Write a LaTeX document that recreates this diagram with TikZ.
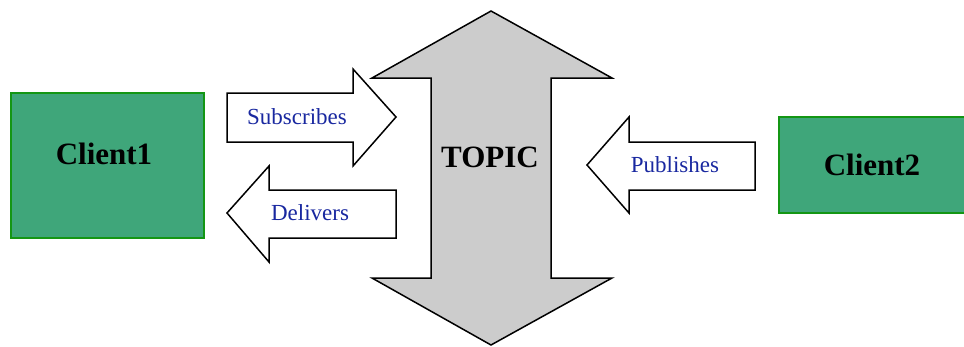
\documentclass[tikz,border=0pt]{standalone}
\usepackage{fontspec}
\setmainfont{Liberation Serif}
\definecolor{clientfill}{RGB}{63,166,122}
\definecolor{clientedge}{RGB}{20,150,20}
\definecolor{labelblue}{RGB}{25,40,160}
\definecolor{topicgray}{RGB}{204,204,204}
\tikzset{
  client/.style={draw=clientedge, fill=clientfill, line width=1.3pt, inner sep=0pt},
  clienttext/.style={font=\fontsize{31}{31}\selectfont\bfseries, text=black, inner sep=0pt},
  blockarrow/.style={draw=black, fill=white, line width=1.5pt, line join=miter},
  arrowtext/.style={font=\fontsize{23}{23}\selectfont, text=labelblue, inner sep=0pt},
  topicarrow/.style={draw=black, fill=topicgray, line width=1.5pt, line join=miter}
}
\begin{document}
\begin{tikzpicture}[x=1pt,y=-1pt]
\useasboundingbox (0,0) rectangle (964,346);
\clip (0,0) rectangle (964,346);

% clients
\node[client, minimum width=193pt, minimum height=145pt] (c1) at (107.5,165.5) {};
\node[clienttext] (c1t) at (104,154) {Client1};
\node[client, minimum width=196pt, minimum height=96pt] (c2) at (877,165) {};
\node[clienttext] (c2t) at (872,165) {Client2};

% topic double arrow
\draw[topicarrow] (491,11) -- (612,78) -- (551,78) -- (551,278) -- (612,278)
  -- (491,345) -- (372,278) -- (431,278) -- (431,78) -- (372,78) -- cycle;
\node[clienttext] (topic) at (490,157) {TOPIC};

% subscribes arrow (right)
\draw[blockarrow] (227,93) -- (353,93) -- (353,69) -- (396,117) -- (353,166)
  -- (353,142) -- (227,142) -- cycle;
\node[arrowtext] (sub) at (297,117) {Subscribes};

% delivers arrow (left)
\draw[blockarrow] (396,190) -- (269,190) -- (269,166) -- (227,213) -- (269,262)
  -- (269,238) -- (396,238) -- cycle;
\node[arrowtext] (del) at (310,213) {Delivers};

% publishes arrow (left)
\draw[blockarrow] (755,142) -- (629,142) -- (629,117) -- (587,165) -- (629,213)
  -- (629,190) -- (755,190) -- cycle;
\node[arrowtext] (pub) at (675,165) {Publishes};
\end{tikzpicture}
\end{document}
